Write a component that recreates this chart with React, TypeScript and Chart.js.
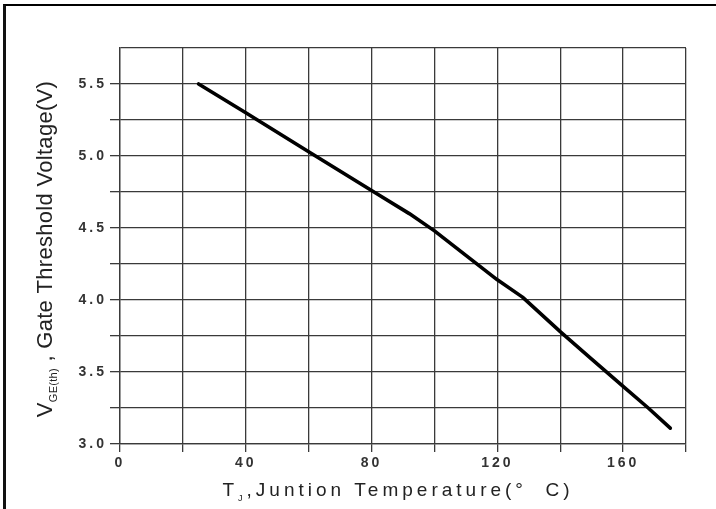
import React, { useEffect, useRef } from "react";
import { Chart, registerables } from "chart.js";

Chart.register(...registerables);

// Junction temperature (°C) and gate threshold voltage (V) along the curve
const temperatureC = [25, 40, 60, 80, 92, 100, 110, 120, 128, 140, 150, 160, 168, 175];
const thresholdV = [5.5, 5.3, 5.03, 4.76, 4.6, 4.48, 4.31, 4.14, 4.02, 3.78, 3.59, 3.4, 3.25, 3.11];

// Labelled ticks (grid lines are drawn every 20 °C and every 0.25 V)
const xTickLabels = ["0", "40", "80", "120", "160"];
const yTickLabels = ["3.0", "3.5", "4.0", "4.5", "5.0", "5.5"];

const W = 716;
const H = 509;

type Seg = { text: string; size: number; shift: number };

function drawSegments(ctx: CanvasRenderingContext2D, segs: Seg[], cx: number, cy: number, spacing: string) {
  (ctx as any).letterSpacing = spacing;
  const widths = segs.map((s) => {
    ctx.font = `${s.size}px Arial, "Liberation Sans", sans-serif`;
    return ctx.measureText(s.text).width;
  });
  const total = widths.reduce((a, b) => a + b, 0);
  let x = cx - total / 2;
  ctx.textBaseline = "alphabetic";
  ctx.textAlign = "left";
  segs.forEach((s, i) => {
    ctx.font = `${s.size}px Arial, "Liberation Sans", sans-serif`;
    ctx.fillText(s.text, x, cy + s.shift);
    x += widths[i];
  });
}

const axisTitles = {
  id: "axisTitles",
  beforeDraw(chart: any) {
    (chart.ctx as any).letterSpacing = "3px";
  },
  afterDraw(chart: any) {
    const ctx = chart.ctx as CanvasRenderingContext2D;
    const area = chart.chartArea;
    ctx.save();
    ctx.fillStyle = "#222";

    // X axis title: T_J ,Juntion Temperature(°  C)
    drawSegments(
      ctx,
      [
        { text: "T", size: 19, shift: 0 },
        { text: "J", size: 9, shift: 5 },
        { text: ",Juntion Temperature(°  C)", size: 19, shift: 0 },
      ],
      (area.left + area.right) / 2 - 5,
      area.bottom + 52,
      "4px"
    );

    // Y axis title, rotated: V_GE(th) , Gate Threshold Voltage(V)
    ctx.translate(52, 249);
    ctx.rotate(-Math.PI / 2);
    drawSegments(
      ctx,
      [
        { text: "V", size: 22, shift: 0 },
        { text: "GE(th)", size: 11, shift: 5 },
        { text: " , Gate Threshold Voltage(V)", size: 22, shift: 0 },
      ],
      0,
      0,
      "0.3px"
    );
    ctx.restore();
    (ctx as any).letterSpacing = "0px";
  },
};

export default function App() {
  const canvasRef = useRef<HTMLCanvasElement | null>(null);

  useEffect(() => {
    if (!canvasRef.current) return;
    const points = temperatureC.map((t, i) => ({ x: t, y: thresholdV[i] }));
    const gridColor = "#3a3a3a";
    const tickFont = { family: 'Arial, "Liberation Sans", sans-serif', size: 14, weight: "bold" as const };

    const chart = new Chart(canvasRef.current, {
      type: "line",
      data: {
        datasets: [
          {
            data: points,
            borderColor: "#000",
            borderWidth: 3.6,
            pointRadius: 0,
            tension: 0,
            borderJoinStyle: "round",
            borderCapStyle: "round",
            fill: false,
          },
        ],
      },
      options: {
        animation: false,
        responsive: false,
        events: [],
        layout: { padding: { left: 0, top: 48, right: W - 686, bottom: 0 } },
        plugins: { legend: { display: false }, tooltip: { enabled: false } },
        scales: {
          x: {
            type: "linear",
            min: 0,
            max: 180,
            afterFit: (scale: any) => {
              scale.height = 65;
            },
            ticks: {
              stepSize: 20,
              autoSkip: false,
              maxRotation: 0,
              padding: 3,
              color: "#333",
              font: tickFont,
              callback: (v: any) => (xTickLabels.includes(String(v)) ? String(v) : ""),
            },
            grid: { color: gridColor, lineWidth: 1.3, tickLength: 8, drawTicks: true },
            border: { display: true, color: gridColor, width: 1.3 },
          },
          y: {
            type: "linear",
            min: 3,
            max: 5.75,
            afterFit: (scale: any) => {
              scale.width = 120;
            },
            ticks: {
              stepSize: 0.25,
              autoSkip: false,
              padding: 3,
              color: "#333",
              font: tickFont,
              callback: (v: any) => {
                const n = Number(v);
                const s = n.toFixed(1);
                return Math.abs(n * 2 - Math.round(n * 2)) < 1e-6 && yTickLabels.includes(s) ? s : "";
              },
            },
            grid: {
              color: gridColor,
              lineWidth: 1.3,
              tickLength: 10,
              drawTicks: true,
              tickColor: (c: any) => (c.tick && c.tick.value >= 5.7 ? "rgba(0,0,0,0)" : gridColor),
            },
            border: { display: true, color: gridColor, width: 1.3 },
          },
        },
      },
      plugins: [axisTitles],
    });
    return () => chart.destroy();
  }, []);

  return (
    <div style={{ position: "fixed", left: 0, top: 0, width: W, height: H, background: "#fff", overflow: "hidden" }}>
      <canvas ref={canvasRef} width={W} height={H} style={{ width: W, height: H, display: "block" }} />
      <div
        style={{
          position: "absolute",
          left: 3,
          top: 4,
          width: W + 10,
          height: H + 10,
          borderTop: "2px solid #000",
          borderLeft: "3px solid #111",
          boxSizing: "border-box",
          pointerEvents: "none",
        }}
      />
    </div>
  );
}
